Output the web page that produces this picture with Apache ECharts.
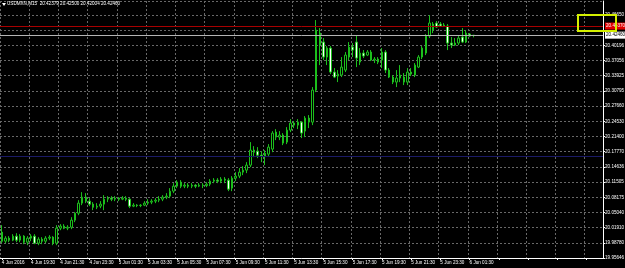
<!DOCTYPE html>
<html><head><meta charset="utf-8">
<script src="https://cdn.jsdelivr.net/npm/echarts@6/dist/echarts.min.js"></script>
<style>html,body{margin:0;padding:0;background:#000;}#c{width:625px;height:268px;}</style>
</head><body><div id="c"></div>
<script>
const symbol = 'USDMXN';
const timeframe = 'M15';
const firstBarTime = '2016-06-04T17:30:00Z';
const barMinutes = 15;
const slotCount = 165;

const opens = [20.0111,19.9922,19.9985,19.9943,20.0027,19.9943,20.0027,19.9901,19.9985,20.0027,
19.9880,19.9964,19.9922,19.9985,20.0006,19.9880,20.0195,20.0237,20.0195,20.0216,
20.0363,20.0510,20.0720,20.0846,20.0762,20.0699,20.0636,20.0657,20.0699,20.0804,
20.0825,20.0804,20.0825,20.0804,20.0825,20.0804,20.0657,20.0678,20.0668,20.0678,
20.0720,20.0741,20.0762,20.0783,20.0804,20.0846,20.0867,20.0972,20.1077,20.1161,
20.1077,20.1098,20.1077,20.1098,20.1077,20.1098,20.1088,20.1119,20.1182,20.1203,
20.1182,20.1224,20.1203,20.1035,20.1245,20.1287,20.1371,20.1413,20.1518,20.1833,
20.1812,20.1728,20.1707,20.1749,20.1854,20.2211,20.2106,20.2148,20.2001,20.2253,
20.2400,20.2358,20.2421,20.2232,20.2505,20.2421,20.3093,20.4290,20.4101,20.3786,
20.3975,20.3471,20.3387,20.3408,20.3513,20.3786,20.3996,20.4101,20.3681,20.3870,
20.3828,20.3891,20.3723,20.3744,20.3723,20.3891,20.3513,20.3366,20.3261,20.3345,
20.3366,20.3261,20.3471,20.3408,20.3576,20.3786,20.3870,20.4227,20.4479,20.4500,
20.4479,20.4437,20.4437,20.4080,20.4080,20.4080,20.4206,20.4101,20.4269,20.42379];
const closes = [19.9922,19.9985,19.9943,20.0027,19.9943,20.0027,19.9901,19.9985,20.0027,19.9880,
19.9964,19.9922,19.9985,20.0006,19.9880,20.0195,20.0237,20.0195,20.0216,20.0363,
20.0510,20.0720,20.0846,20.0762,20.0699,20.0636,20.0657,20.0699,20.0804,20.0825,
20.0804,20.0825,20.0804,20.0825,20.0804,20.0657,20.0678,20.0668,20.0678,20.0720,
20.0741,20.0762,20.0783,20.0804,20.0846,20.0867,20.0972,20.1077,20.1161,20.1077,
20.1098,20.1077,20.1098,20.1077,20.1098,20.1088,20.1119,20.1182,20.1203,20.1182,
20.1224,20.1203,20.1014,20.1245,20.1287,20.1371,20.1413,20.1518,20.1833,20.1791,
20.1728,20.1707,20.1770,20.1896,20.2190,20.2106,20.2148,20.1980,20.2253,20.2400,
20.2358,20.2421,20.2190,20.2505,20.2421,20.3093,20.4353,20.4038,20.3786,20.3975,
20.3471,20.3366,20.3429,20.3576,20.3828,20.3996,20.3933,20.3765,20.3870,20.3807,
20.3891,20.3723,20.3744,20.3681,20.3891,20.3513,20.3366,20.3261,20.3345,20.3408,
20.3261,20.3471,20.3429,20.3618,20.3786,20.3975,20.4227,20.4500,20.4353,20.4416,
20.4437,20.4458,20.4080,20.4038,20.4038,20.4185,20.4101,20.4290,20.4227,20.42460];
const highs = [20.0258,20.0027,20.0027,20.0069,20.0090,20.0069,20.0048,20.0027,20.0069,20.0069,
20.0006,20.0006,20.0027,20.0048,20.0027,20.0258,20.0279,20.0279,20.0258,20.0426,
20.0531,20.0783,20.0951,20.0930,20.0825,20.0741,20.0720,20.0762,20.0888,20.0867,
20.0867,20.0867,20.0846,20.0867,20.0867,20.0825,20.0720,20.0699,20.0699,20.0762,
20.0804,20.0804,20.0825,20.0867,20.0888,20.0930,20.1035,20.1140,20.1203,20.1203,
20.1140,20.1140,20.1140,20.1119,20.1140,20.1140,20.1161,20.1224,20.1245,20.1245,
20.1266,20.1266,20.1245,20.1287,20.1371,20.1455,20.1497,20.1581,20.2001,20.1917,
20.1896,20.1812,20.1833,20.1959,20.2232,20.2274,20.2232,20.2190,20.2316,20.2484,
20.2442,20.2484,20.2442,20.2547,20.2568,20.3156,20.4563,20.4395,20.4185,20.4017,
20.4017,20.3555,20.3513,20.3786,20.3891,20.4101,20.4080,20.4248,20.3975,20.3933,
20.3933,20.3933,20.3786,20.3786,20.3975,20.3933,20.3555,20.3408,20.3513,20.3618,
20.3450,20.3555,20.3555,20.3660,20.3828,20.4017,20.4269,20.4668,20.4521,20.4542,
20.4521,20.4500,20.4479,20.4206,20.4185,20.4248,20.4395,20.4353,20.4290,20.42500];
const lows = [19.9880,19.9880,19.9901,19.9922,19.9901,19.9901,19.9859,19.9838,19.9922,19.9859,
19.9838,19.9859,19.9880,19.9943,19.9838,19.9838,20.0153,20.0174,20.0153,20.0174,
20.0321,20.0468,20.0678,20.0720,20.0657,20.0573,20.0594,20.0615,20.0573,20.0741,
20.0762,20.0762,20.0762,20.0783,20.0762,20.0615,20.0636,20.0636,20.0636,20.0657,
20.0678,20.0699,20.0720,20.0741,20.0762,20.0804,20.0825,20.0930,20.1035,20.1035,
20.1035,20.1035,20.1035,20.1035,20.1056,20.1035,20.1056,20.1077,20.1140,20.1140,
20.1140,20.1140,20.0972,20.0972,20.1182,20.1245,20.1308,20.1350,20.1476,20.1686,
20.1665,20.1581,20.1518,20.1707,20.1791,20.2043,20.2043,20.1938,20.1959,20.2211,
20.2295,20.2274,20.2085,20.2106,20.2295,20.2358,20.3051,20.3618,20.3723,20.3618,
20.3429,20.3345,20.3261,20.3366,20.3471,20.3723,20.3786,20.3576,20.3618,20.3765,
20.3807,20.3702,20.3660,20.3639,20.3555,20.3450,20.3345,20.3219,20.3156,20.3261,
20.3198,20.3198,20.3387,20.3366,20.3555,20.3744,20.3828,20.4185,20.4290,20.4395,
20.4416,20.4416,20.3933,20.3975,20.4017,20.4038,20.4080,20.4080,20.4206,20.42004];

const xTickLabels = ['4 Jun 2016','4 Jun 19:30','4 Jun 21:30','4 Jun 23:30','5 Jun 01:30','5 Jun 03:30',
'5 Jun 05:30','5 Jun 07:30','5 Jun 09:30','5 Jun 11:30','5 Jun 13:30','5 Jun 15:30','5 Jun 17:30',
'5 Jun 19:30','5 Jun 21:30','5 Jun 23:30','6 Jun 01:30'];
const yTickLabels = ['19.95646','19.98780','20.01910','20.05040','20.08175','20.11505','20.14636',
'20.17770','20.21400','20.24530','20.27660','20.30795','20.33925','20.37056','20.40196','','20.46650'];

const bidPrice = 20.42460;
const askPrice = 20.44370;
const levelPrice = 20.17070;

const yMin = 19.95688, yInterval = 0.03188, yMax = 20.4963;

const categories = [];
for (let i = 0; i < slotCount; i++) {
  const d = new Date(Date.parse(firstBarTime) + i * barMinutes * 60000);
  categories.push(d.toISOString().slice(0, 16).replace('T', ' '));
}
const candles = opens.map((o, i) => [o, closes[i], lows[i], highs[i]]);
const n = opens.length - 1;
const f5 = v => v.toFixed(5);

const font = 'Liberation Sans';
const fs = 4.6;
const grid = '#686868';
const green = '#1cbf1c';

const chart = echarts.init(document.getElementById('c'), null, {renderer: 'canvas'});
chart.setOption({
  backgroundColor: '#000',
  animation: false,
  title: {
    text: `${symbol},${timeframe}  ${f5(opens[n])} ${f5(highs[n])} ${f5(lows[n])} ${f5(closes[n])}`,
    left: 7, top: 1, padding: 0,
    textStyle: {color: '#fff', fontSize: fs, fontWeight: 'normal', fontFamily: font}
  },
  grid: {left: 0, right: 22, top: 1, bottom: 10, containLabel: false, outerBoundsMode: 'none'},
  xAxis: {
    type: 'category', data: categories, boundaryGap: true,
    axisLine: {show: true, lineStyle: {color: '#fff', width: 1}},
    axisTick: {show: true, interval: 7, alignWithLabel: true, length: 2, lineStyle: {color: '#fff'}},
    axisLabel: {
      interval: 7, color: '#fff', fontSize: fs, fontFamily: font, align: 'left', margin: 2,
      formatter: (v, i) => xTickLabels[i / 8] || ''
    },
    splitLine: {show: true, interval: 7, lineStyle: {color: grid, type: [2, 2], width: 1}}
  },
  yAxis: {
    type: 'value', position: 'right', min: yMin, max: yMax, interval: yInterval, scale: true,
    axisLine: {show: true, lineStyle: {color: '#fff', width: 1}},
    axisTick: {show: true, length: 2, lineStyle: {color: '#fff'}},
    axisLabel: {
      color: '#fff', fontSize: fs, fontFamily: font, margin: 2, showMaxLabel: false,
      formatter: v => yTickLabels[Math.round((v - yMin) / yInterval)] ?? ''
    },
    splitLine: {show: true, lineStyle: {color: grid, type: [2, 2], width: 1}}
  },
  series: [{
    type: 'candlestick', data: candles, barWidth: 2,
    itemStyle: {color: '#000', color0: '#fff', borderColor: green, borderColor0: green, borderWidth: 1},
    markLine: {
      silent: true, symbol: 'none', animation: false, precision: 5,
      data: [
        {yAxis: levelPrice, lineStyle: {color: '#1a1a66', type: 'solid', width: 1}, label: {show: false}},
        {yAxis: askPrice, lineStyle: {color: '#a80000', type: 'solid', width: 1},
          label: {show: true, position: 'end', distance: 2, formatter: f5(askPrice), backgroundColor: '#e00000',
            color: '#fff', fontSize: fs, fontFamily: font, padding: [1, 1]}},
        {yAxis: bidPrice, lineStyle: {color: '#b4b4b4', type: 'solid', width: 1},
          label: {show: true, position: 'end', distance: 2, formatter: f5(bidPrice), backgroundColor: '#fff',
            color: '#000', fontSize: fs, fontFamily: font, padding: [1, 1]}}
      ]
    }
  }],
  graphic: [
    {type: 'polygon', shape: {points: [[2, 3], [6, 3], [4, 6]]}, style: {fill: '#fff'}},
    {type: 'rect', z: 100, shape: {x: 578, y: 15, width: 38, height: 16},
      style: {fill: null, stroke: '#d4f000', lineWidth: 2}}
  ]
});
</script></body></html>
